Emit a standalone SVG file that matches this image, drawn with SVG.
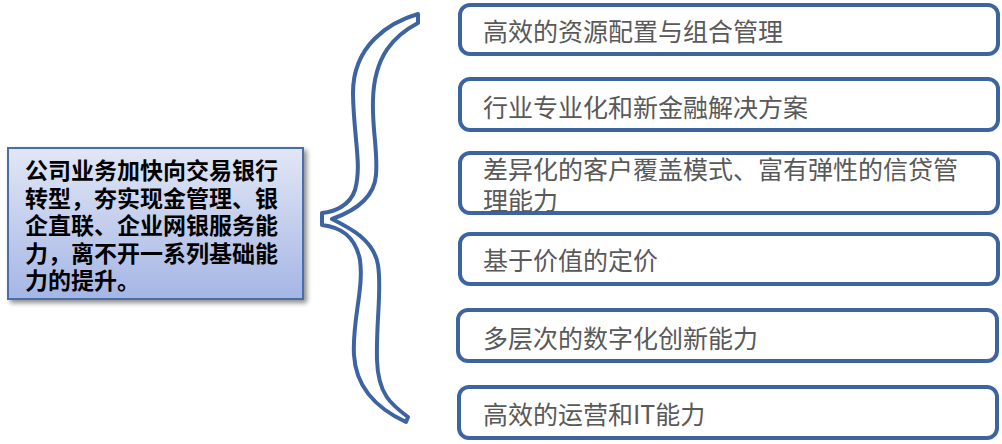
<svg xmlns="http://www.w3.org/2000/svg" width="1002" height="444" viewBox="0 0 1002 444">
<defs>
<linearGradient id="lg" x1="0" y1="0" x2="0" y2="1">
<stop offset="0" stop-color="#e2e7f5"/>
<stop offset="1" stop-color="#a5b6e5"/>
</linearGradient>
<filter id="sh" x="-10%" y="-10%" width="125%" height="130%">
<feGaussianBlur in="SourceAlpha" stdDeviation="2.5"/>
<feOffset dx="3" dy="3" result="b"/>
<feComponentTransfer><feFuncA type="linear" slope="0.45"/></feComponentTransfer>
<feMerge><feMergeNode/><feMergeNode in="SourceGraphic"/></feMerge>
</filter>
</defs>
<style>
.box{fill:#ffffff;stroke:#3d64a0;stroke-width:4}
.t{font-family:"Noto Sans CJK SC","Noto Sans",sans-serif;font-size:25px;fill:#595959}
.lt{font-family:"Noto Sans CJK SC","Noto Sans",sans-serif;font-size:23px;font-weight:bold;fill:#000000}
</style>
<rect width="1002" height="444" fill="#ffffff"/>
<g id="source">
<rect x="8" y="148" width="295" height="151" fill="url(#lg)" stroke="#4a6ea8" stroke-width="2" filter="url(#sh)"/>
<text class="lt" x="25" y="179">公司业务加快向交易银行</text>
<text class="lt" x="25" y="206.5">转型，夯实现金管理、银</text>
<text class="lt" x="25" y="234">企直联、企业网银服务能</text>
<text class="lt" x="25" y="261.5">力，离不开一系列基础能</text>
<text class="lt" x="25" y="289">力的提升。</text>
</g>
<g id="connectors">
<path d="M418,14 C390,22 352,45 353,95 C354,140 362,165 355,190 C350,205 335,212 322,213 L322,225 C340,227 355,235 360,260 C364,290 352,320 354,355 C356,390 380,410 406,422 L408,417 C392,405 378,395 377,360 C376,320 382,290 378,265 C374,240 350,228 332,219 C352,212 374,200 376,175 C378,150 372,130 373,100 C374,55 395,35 418,23 Z" fill="#ffffff" stroke="#3d64a0" stroke-width="4" stroke-linejoin="round"/>
</g>
<g id="n1"><rect class="box" x="460" y="5" width="538" height="49" rx="10"/><text class="t" x="483" y="40.5">高效的资源配置与组合管理</text></g>
<g id="n2"><rect class="box" x="460" y="79" width="538" height="51" rx="10"/><text class="t" x="483" y="116.5">行业专业化和新金融解决方案</text></g>
<g id="n3"><rect class="box" x="460" y="153" width="538" height="60" rx="10"/><text class="t" x="483" y="178.5">差异化的客户覆盖模式、富有弹性的信贷管</text><text class="t" x="483" y="209.5">理能力</text></g>
<g id="n4"><rect class="box" x="460" y="234" width="538" height="50" rx="10"/><text class="t" x="483" y="269.5">基于价值的定价</text></g>
<g id="n5"><rect class="box" x="458" y="310" width="539" height="51" rx="10"/><text class="t" x="483" y="347.5">多层次的数字化创新能力</text></g>
<g id="n6"><rect class="box" x="459" y="387" width="538" height="51" rx="10"/><text class="t" x="483" y="423.5">高效的运营和IT能力</text></g>
</svg>
